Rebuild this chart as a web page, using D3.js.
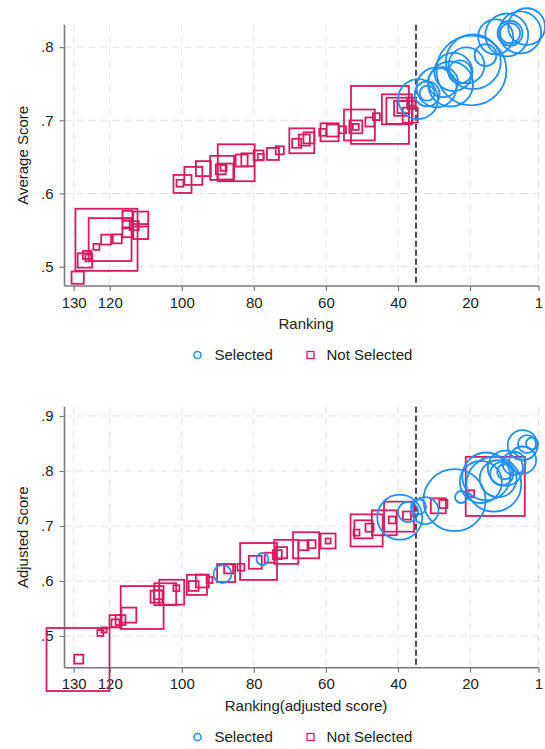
<!DOCTYPE html>
<html>
<head>
<meta charset="utf-8">
<script src="https://cdn.jsdelivr.net/npm/d3@7"></script>
<style>
  body { margin: 0; background: #fff; }
  svg { display: block; font-family: "Liberation Sans", Arial, sans-serif; }
</style>
</head>
<body>
<div id="chart"></div>
<script>
// top panel: ranking vs average score
var topRank = [128.9, 120.9, 119.9, 126.9, 126.3, 125.8, 123.7, 121, 117.9, 115.1, 115.1, 115.1, 111.4, 111.4, 113.2,
  99.8, 100.5, 96.8, 94, 88.8, 84.9, 89.2, 87.9, 88.4, 83.4, 81.7, 78.7, 78.1, 74.7, 72.8, 66.7, 68.1, 66, 64.7,
  60.9, 59, 58.1, 55.4, 50.7, 51.7, 51.7, 45, 47.8, 46, 40.3, 39, 39.6, 36.3, 36.6, 36.2, 38.5,
  34.4, 31.9, 31.9, 29.3, 25.4, 24.6, 22.8, 19.1, 19.6, 15.7, 12.9, 9.8, 8.9, 8.9, 6.1, 4.3, 27.5, 21];
var topScore = [.485, .5367, .537, .5085, .516, .512, .527, .537, .538, .5695, .559, .547, .565, .548, .556,
  .613, .614, .624, .634, .635, .642, .633, .630, .635, .645, .646, .652, .650, .654, .659, .672, .6686, .673, .676,
  .6836, .6836, .686, .687, .6936, .691, .691, .7073, .6977, .705, .715, .7164, .713, .7254, .707, .721, .718,
  .729, .736, .737, .745, .7496, .766, .766, .78, .768, .789, .814, .8166, .819, .819, .820, .8279, .752, .775];
var topWeight = [4.1, 20.7, 14.3, 4.8, 2.7, 2.3, 2, 3.3, 3, 3.3, 3.3, 3.3, 5, 5, 3,
  6, 2.3, 6, 5, 8, 12.3, 3.3, 5.3, 2, 4, 4.3, 3.3, 2, 4, 2.7, 8.3, 3, 3.7, 3.7,
  2.3, 6, 4, 2.3, 10.3, 4.3, 2, 19.3, 3, 2.3, 10, 5, 8.7, 2.7, 5, 2.7, 4,
  13.3, 8.3, 5, 13.3, 15, 12.7, 7.7, 18.3, 23.3, 7.3, 11.7, 14.3, 8.3, 6.7, 14, 12.3, 10, 12];
var topSelected = [0,0,0,0,0,0,0,0,0,0,0,0,0,0,0,
  0,0,0,0,0,0,0,0,0,0,0,0,0,0,0,0,0,0,0,
  0,0,0,0,0,0,0,0,0,0,0,0,0,0,0,0,0,
  1,1,1,1,1,1,1,1,1,1,1,1,1,1,1,1,1,1];

// bottom panel: ranking(adjusted) vs adjusted score
var botRank = [128.8, 128.6, 111, 122.6, 121.6, 118.4, 118.4, 117, 114.7, 107, 104.6, 102.8, 101.5, 106.5,
  95.8, 96.7, 94.3, 92.3, 88.7, 87.7, 87, 83.6, 78.7, 79.6, 77.6, 75.6, 71, 72.3, 73.5, 65.5, 66.2, 64,
  59.4, 59.4, 48.7, 49.6, 51.5, 47.9, 43.8, 41.6, 39.5, 39.7, 37.5, 37.2, 34.3, 24.3, 28.8, 27.4, 22.5,
  13, 19.8, 13.4, 12.2, 11.2, 10.4, 10.2, 7.8, 5.4, 5.4, 4.2, 2.8, 32.5, 17, 15.5];
var botScore = [.4573, .458, .5518, .5055, .511, .527, .523, .529, .538, .5715, .576, .5796, .587, .575,
  .593, .591, .600, .6018, .6127, .6145, .622, .625, .6355, .634, .64, .6424, .653, .6515, .648, .665, .665, .667,
  .6727, .6727, .692, .694, .688, .697, .7058, .711, .716, .717, .719, .7255, .735, .747, .7367, .74, .7527,
  .772, .7587, .776, .786, .795, .7986, .805, .814, .82, .847, .849, .85, .728, .78, .79];
var botWeight = [21, 3, 14.3, 2, 1.7, 4, 2.7, 3.3, 5, 4, 7.3, 8.3, 2, 3,
  6.7, 3.3, 4.3, 2, 6, 6, 3, 2.3, 12.3, 4.3, 4, 3.3, 8, 3.7, 3, 8.7, 3.3, 2.7,
  5, 1.7, 10.7, 6, 2, 2.7, 8.3, 2.3, 15, 10, 2.7, 6.7, 5, 20.7, 5, 2.7, 4,
  19.7, 2.3, 18.3, 12.3, 7.7, 5, 11.7, 7.7, 9, 10, 6, 4, 9, 14, 16];
var botSelected = [0,0,0,0,0,0,0,0,0,0,0,0,0,0,
  0,0,0,0,1,0,0,0,0,0,1,0,0,0,0,0,0,0,
  0,0,0,0,0,0,0,0,1,0,0,1,1,1,0,0,1,
  0,0,1,1,1,1,1,1,1,1,1,1,1,1,1];

var xTicks = [130, 120, 100, 80, 60, 40, 20, 1];
var topYTicks = [.5, .6, .7, .8];
var botYTicks = [.5, .6, .7, .8, .9];
var cutoffRank = 35;
var legendLabels = ["Selected", "Not Selected"];

var blue = "#1e90ff";
var red = "#d81b60";

var width = 545, height = 749;
var svg = d3.select("#chart").append("svg").attr("width", width).attr("height", height);

var x = d3.scaleLinear().domain([130, 1]).range([73.7, 538.5]);
var size = d3.scaleLinear().domain([0, 20]).range([0, 60]);

function fmt(v) { return d3.format(".1f")(v).replace(/^0/, ""); }

function drawPanel(opt) {
  var g = svg.append("g");
  var y = d3.scaleLinear().domain(opt.yDomain).range([opt.bottom, opt.top]);
  var left = 64.5, right = 539;

  // grid
  g.selectAll(".hgrid").data(opt.yTicks).enter().append("line")
    .attr("x1", left).attr("x2", right)
    .attr("y1", function(d) { return y(d); }).attr("y2", function(d) { return y(d); })
    .attr("stroke", "#e2e2e2").attr("stroke-dasharray", "7,5");
  g.selectAll(".vgrid").data(xTicks).enter().append("line")
    .attr("x1", function(d) { return x(d); }).attr("x2", function(d) { return x(d); })
    .attr("y1", opt.top).attr("y2", opt.bottom)
    .attr("stroke", "#e2e2e2").attr("stroke-dasharray", "7,5");

  // axes
  var xAxis = g.append("g").attr("transform", "translate(0," + opt.bottom + ")")
    .call(d3.axisBottom(x).tickValues(xTicks).tickSize(5).tickPadding(6));
  xAxis.select(".domain").attr("d", "M" + left + ",0H" + right);
  var yAxis = g.append("g").attr("transform", "translate(" + left + ",0)")
    .call(d3.axisLeft(y).tickValues(opt.yTicks).tickFormat(fmt).tickSize(5).tickPadding(6));
  yAxis.select(".domain").attr("d", "M0," + opt.top + "V" + opt.bottom);
  [xAxis, yAxis].forEach(function(a) {
    a.select(".domain").attr("stroke", "#7a7a7a").attr("stroke-width", 1.6);
    a.selectAll(".tick line").attr("stroke", "#7a7a7a").attr("stroke-width", 1.2);
    a.selectAll(".tick text").attr("font-size", 15).attr("fill", "#222")
      .attr("font-family", "Liberation Sans, Arial, sans-serif");
  });

  // cutoff
  g.append("line")
    .attr("x1", x(cutoffRank)).attr("x2", x(cutoffRank))
    .attr("y1", opt.top).attr("y2", opt.bottom)
    .attr("stroke", "#111").attr("stroke-width", 1.5).attr("stroke-dasharray", "6,3");

  var pts = opt.rank.map(function(r, i) {
    return {rank: r, score: opt.score[i], w: opt.weight[i], sel: opt.selected[i]};
  });

  g.selectAll(".sq").data(pts.filter(function(d) { return !d.sel; })).enter().append("rect")
    .attr("x", function(d) { return x(d.rank) - size(d.w) / 2; })
    .attr("y", function(d) { return y(d.score) - size(d.w) / 2; })
    .attr("width", function(d) { return size(d.w); })
    .attr("height", function(d) { return size(d.w); })
    .attr("fill", "none").attr("stroke", red).attr("stroke-width", 1.8);

  g.selectAll(".ci").data(pts.filter(function(d) { return d.sel; })).enter().append("circle")
    .attr("cx", function(d) { return x(d.rank); })
    .attr("cy", function(d) { return y(d.score); })
    .attr("r", function(d) { return size(d.w) / 2; })
    .attr("fill", "none").attr("stroke", blue).attr("stroke-width", 1.8);

  // titles
  g.append("text").attr("x", 306).attr("y", opt.xTitleY).attr("text-anchor", "middle")
    .attr("font-size", 15).attr("fill", "#222").text(opt.xTitle);
  g.append("text").attr("transform", "translate(28," + ((opt.top + opt.bottom) / 2) + ") rotate(-90)")
    .attr("text-anchor", "middle").attr("font-size", 15).attr("fill", "#222").text(opt.yTitle);

  // legend
  var lg = g.append("g").attr("transform", "translate(0," + opt.legendY + ")");
  lg.append("circle").attr("cx", 197.5).attr("cy", -5).attr("r", 3.6)
    .attr("fill", "none").attr("stroke", blue).attr("stroke-width", 1.5);
  lg.append("text").attr("x", 214.5).attr("y", 0).attr("font-size", 15).attr("fill", "#222").text(legendLabels[0]);
  lg.append("rect").attr("x", 307).attr("y", -8.5).attr("width", 7).attr("height", 7)
    .attr("fill", "none").attr("stroke", red).attr("stroke-width", 1.3);
  lg.append("text").attr("x", 326.5).attr("y", 0).attr("font-size", 15).attr("fill", "#222").text(legendLabels[1]);
}

drawPanel({
  rank: topRank, score: topScore, weight: topWeight, selected: topSelected,
  yDomain: [.4736, .8306], yTicks: topYTicks, top: 24.7, bottom: 286,
  xTitle: "Ranking", yTitle: "Average Score", xTitleY: 329, legendY: 360
});

drawPanel({
  rank: botRank, score: botScore, weight: botWeight, selected: botSelected,
  yDomain: [.4424, .9169], yTicks: botYTicks, top: 406.7, bottom: 667.7,
  xTitle: "Ranking(adjusted score)", yTitle: "Adjusted Score", xTitleY: 711, legendY: 742
});
</script>
</body>
</html>
